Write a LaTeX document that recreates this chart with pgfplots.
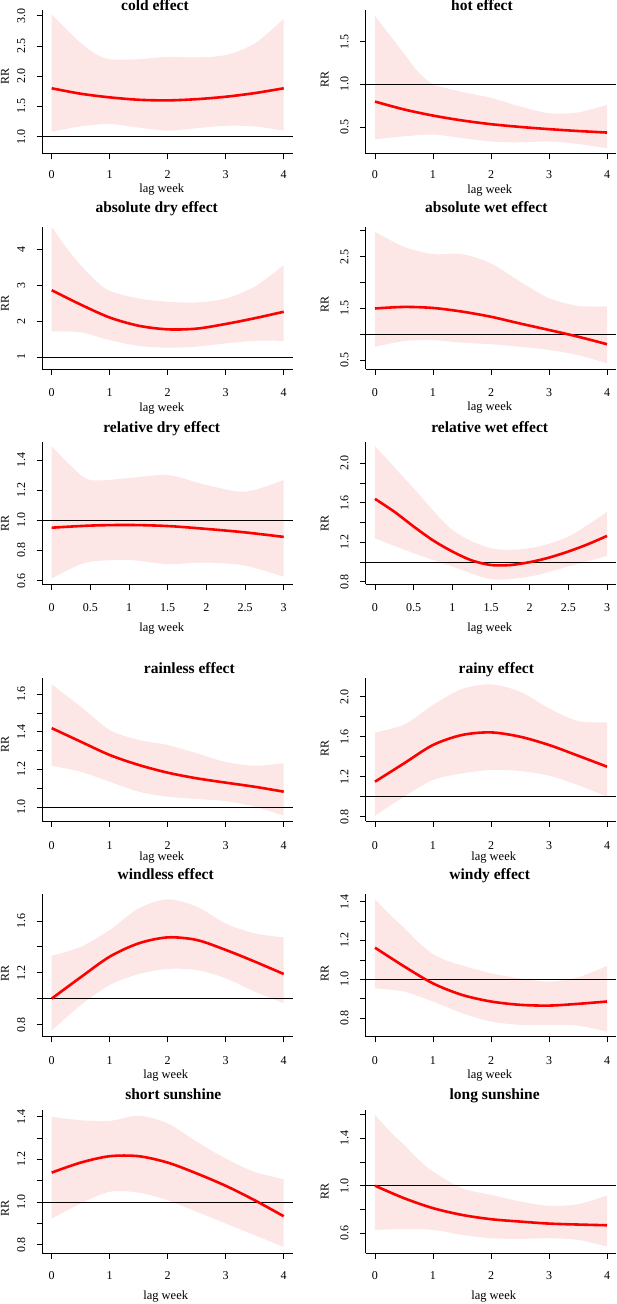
\documentclass[border=0pt]{standalone}
\usepackage{fontspec}
\setmainfont{Liberation Serif}
\usepackage{pgfplots}
\pgfplotsset{compat=1.18}
\usepgfplotslibrary{fillbetween}
\definecolor{bandcol}{RGB}{253,230,230}
\definecolor{rred}{RGB}{255,0,0}
\pgfplotsset{
 rpanel/.style={
  scale only axis, width=250.6pt, anchor=south west,
  axis x line*=bottom, axis y line*=left,
  axis line style={line width=0.8pt, black},
  tick align=outside, major tick length=5.7pt,
  every tick/.style={black, line width=0.8pt},
  tick label style={font=\fontsize{12}{13}\selectfont},
  yticklabel style={xshift=-15.5pt, rotate=90, anchor=center},
  xticklabel style={anchor=center},
 },
 lag4/.style={xmin=-0.16,xmax=4.16,xtick={0,1,2,3,4},xticklabels={0,1,2,3,4}},
 lag3/.style={xmin=-0.12,xmax=3.12,xtick={0,0.5,1,1.5,2,2.5,3},xticklabels={0,0.5,1,1.5,2,2.5,3}},
 xl/.style={xticklabel style={yshift=-#1pt+4.7pt}},
}
\newcommand{\band}[2]{%
 \addplot[name path=u, draw=none, smooth] coordinates {#1};
 \addplot[name path=l, draw=none, smooth] coordinates {#2};
 \addplot[fill=bandcol, draw=none] fill between[of=u and l];
}
\newcommand{\hone}[2]{\addplot[black, line width=0.7pt] coordinates {(#1,1) (#2,1)};}
\newcommand{\est}[1]{\addplot[rred, line width=2.6pt, smooth] coordinates {#1};}
\begin{document}
\begin{tikzpicture}
% ---------- Row 1 ----------
\begin{axis}[rpanel, lag4, xl=19.6, at={(42.4pt,1150.2pt)}, height=143.3pt, ymin=0.717, ymax=3.086,
 ytick={1,1.5,2,2.5,3}, yticklabels={1.0,1.5,2.0,2.5,3.0}]
\band{(0,3.02)(0.25,2.78)(0.5,2.55)(0.75,2.37)(1,2.28)(1.5,2.28)(2,2.32)(2.5,2.31)(3,2.35)(3.5,2.54)(4,2.95)}
     {(0,1.08)(0.5,1.17)(1,1.21)(1.5,1.15)(2,1.10)(2.5,1.14)(3,1.18)(3.5,1.17)(4,1.10)}
\hone{-0.16}{4.16}
\est{(0,1.80)(0.5,1.71)(1,1.65)(1.5,1.61)(2,1.60)(2.5,1.62)(3,1.66)(3.5,1.72)(4,1.80)}
\end{axis}
\begin{axis}[rpanel, lag4, xl=19.6, at={(365.7pt,1150.2pt)}, height=143.3pt, ymin=0.185, ymax=1.865,
 ytick={0.5,1,1.5}, yticklabels={0.5,1.0,1.5}]
\band{(0,1.80)(0.25,1.58)(0.5,1.36)(0.75,1.14)(1,1.0)(1.25,0.95)(1.5,0.91)(2,0.84)(2.5,0.74)(3,0.66)(3.5,0.67)(4,0.76)}
     {(0,0.355)(0.5,0.39)(1,0.41)(1.5,0.37)(2,0.33)(2.5,0.32)(3,0.33)(3.5,0.30)(4,0.25)}
\hone{-0.16}{4.16}
\est{(0,0.797)(0.5,0.705)(1,0.633)(1.5,0.576)(2,0.532)(2.5,0.500)(3,0.474)(3.5,0.452)(4,0.434)}
\end{axis}
% ---------- Row 2 ----------
\begin{axis}[rpanel, lag4, xl=22.7, at={(42.4pt,935pt)}, height=142.3pt, ymin=0.666, ymax=4.63,
 ytick={1,2,3,4}, yticklabels={1,2,3,4}]
\band{(0,4.63)(0.25,4.05)(0.5,3.56)(0.75,3.14)(1,2.84)(1.5,2.63)(2,2.54)(2.5,2.52)(3,2.63)(3.5,2.96)(4,3.56)}
     {(0,1.71)(0.5,1.69)(1,1.47)(1.5,1.31)(2,1.26)(2.5,1.29)(3,1.38)(3.5,1.45)(4,1.45)}
\hone{-0.16}{4.16}
\est{(0,2.86)(0.5,2.46)(1,2.10)(1.5,1.87)(2,1.77)(2.5,1.79)(3,1.92)(3.5,2.08)(4,2.26)}
\end{axis}
\begin{axis}[rpanel, lag4, xl=22.7, at={(365.7pt,935pt)}, height=142.3pt, ymin=0.332, ymax=3.079,
 ytick={0.5,1,1.5,2,2.5,3}, yticklabels={0.5,,1.5,,2.5,}]
\band{(0,2.98)(0.5,2.69)(1,2.55)(1.5,2.55)(2,2.37)(2.5,2.02)(3,1.70)(3.5,1.55)(4,1.54)}
     {(0,0.76)(0.5,0.87)(1,0.89)(1.5,0.84)(2,0.81)(2.5,0.76)(3,0.70)(3.5,0.60)(4,0.44)}
\hone{-0.16}{4.16}
\est{(0,1.50)(0.5,1.53)(1,1.51)(1.5,1.44)(2,1.34)(2.5,1.21)(3,1.085)(3.5,0.956)(4,0.81)}
\end{axis}
% ---------- Row 3 ----------
\begin{axis}[rpanel, lag3, xl=22.4, at={(42.4pt,719.7pt)}, height=142pt, ymin=0.576, ymax=1.517,
 ytick={0.6,0.8,1,1.2,1.4}, yticklabels={0.6,0.8,1.0,1.2,1.4}]
\band{(0,1.49)(0.25,1.36)(0.5,1.267)(1,1.28)(1.5,1.30)(2,1.234)(2.5,1.19)(3,1.267)}
     {(0,0.615)(0.25,0.68)(0.5,0.726)(1,0.737)(1.5,0.71)(2,0.72)(2.5,0.70)(3,0.626)}
\hone{-0.12}{3.12}
\est{(0,0.951)(0.5,0.965)(1,0.969)(1.5,0.962)(2,0.943)(2.5,0.92)(3,0.89)}
\end{axis}
\begin{axis}[rpanel, lag3, xl=22.4, at={(365.7pt,719.7pt)}, height=142pt, ymin=0.775, ymax=2.213,
 ytick={0.8,1,1.2,1.4,1.6,1.8,2}, yticklabels={0.8,,1.2,,1.6,,2.0}]
\band{(0,2.175)(0.5,1.747)(1,1.326)(1.5,1.14)(2,1.14)(2.5,1.258)(3,1.51)}
     {(0,1.24)(0.5,1.09)(1,0.955)(1.5,0.827)(2,0.854)(2.5,0.955)(3,1.063)}
\hone{-0.12}{3.12}
\est{(0,1.64)(0.25,1.51)(0.5,1.36)(0.75,1.22)(1,1.107)(1.25,1.017)(1.5,0.97)(1.75,0.97)(2,0.999)(2.25,1.045)(2.5,1.107)(2.75,1.18)(3,1.265)}
\end{axis}
% ---------- Row 4 ----------
\begin{axis}[rpanel, lag4, xl=24, at={(42.4pt,483pt)}, height=142.7pt, ymin=0.926, ymax=1.685,
 ytick={1,1.1,1.2,1.3,1.4,1.5,1.6}, yticklabels={1.0,,1.2,,1.4,,1.6}]
\band{(0,1.653)(0.5,1.534)(1,1.41)(1.5,1.357)(2,1.33)(2.5,1.286)(3,1.24)(3.5,1.22)(4,1.233)}
     {(0,1.22)(0.5,1.188)(1,1.135)(1.5,1.082)(2,1.055)(2.5,1.043)(3,1.032)(3.5,1.002)(4,0.954)}
\hone{-0.16}{4.16}
\est{(0,1.42)(0.5,1.348)(1,1.277)(1.5,1.224)(2,1.183)(2.5,1.153)(3,1.13)(3.5,1.108)(4,1.082)}
\end{axis}
\begin{axis}[rpanel, lag4, xl=24, at={(365.7pt,483pt)}, height=142.7pt, ymin=0.757, ymax=2.184,
 ytick={0.8,1,1.2,1.4,1.6,1.8,2}, yticklabels={0.8,,1.2,,1.6,,2.0}]
\band{(0,1.643)(0.5,1.72)(1,1.917)(1.5,2.077)(2,2.123)(2.5,2.05)(3,1.883)(3.5,1.757)(4,1.743)}
     {(0,0.81)(0.5,1.0)(1,1.167)(1.5,1.233)(2,1.267)(2.5,1.257)(3,1.21)(3.5,1.117)(4,1.0)}
\hone{-0.16}{4.16}
\est{(0,1.15)(0.5,1.333)(1,1.517)(1.5,1.617)(2,1.643)(2.5,1.60)(3,1.517)(3.5,1.41)(4,1.30)}
\end{axis}
% ---------- Row 5 ----------
\begin{axis}[rpanel, lag4, xl=23.3, at={(42.4pt,267.3pt)}, height=142.7pt, ymin=0.706, ymax=1.808,
 ytick={0.8,1,1.2,1.4,1.6}, yticklabels={0.8,,1.2,,1.6}]
\band{(0,1.33)(0.5,1.40)(1,1.53)(1.5,1.697)(2,1.767)(2.5,1.71)(3,1.58)(3.5,1.504)(4,1.473)}
     {(0,0.753)(0.5,0.95)(1,1.105)(1.5,1.19)(2,1.229)(2.5,1.221)(3,1.157)(3.5,1.054)(4,0.964)}
\hone{-0.16}{4.16}
\est{(0,1.0)(0.5,1.165)(1,1.324)(1.5,1.427)(2,1.473)(2.5,1.453)(3,1.376)(3.5,1.286)(4,1.19)}
\end{axis}
\begin{axis}[rpanel, lag4, xl=23.3, at={(365.7pt,267.3pt)}, height=142.7pt, ymin=0.705, ymax=1.439,
 ytick={0.8,0.9,1,1.1,1.2,1.3,1.4}, yticklabels={0.8,,1.0,,1.2,,1.4}]
\band{(0,1.412)(0.25,1.335)(0.5,1.265)(0.75,1.19)(1,1.13)(1.25,1.095)(1.5,1.072)(2,1.031)(2.5,1.005)(3,0.988)(3.5,1.01)(4,1.069)}
     {(0,0.954)(0.5,0.937)(1,0.886)(1.5,0.826)(2,0.783)(2.5,0.766)(3,0.766)(3.5,0.762)(4,0.731)}
\hone{-0.16}{4.16}
\est{(0,1.163)(0.5,1.067)(1,0.979)(1.5,0.92)(2,0.886)(2.5,0.869)(3,0.865)(3.5,0.874)(4,0.886)}
\end{axis}
% ---------- Row 6 ----------
\begin{axis}[rpanel, lag4, xl=21.7, at={(42.4pt,50.7pt)}, height=143.3pt, ymin=0.759, ymax=1.432,
 ytick={0.8,0.9,1,1.1,1.2,1.3,1.4}, yticklabels={0.8,,1.0,,1.2,,1.4}]
\band{(0,1.40)(0.5,1.384)(1,1.381)(1.5,1.405)(2,1.369)(2.5,1.283)(3,1.204)(3.5,1.141)(4,1.107)}
     {(0,0.922)(0.5,0.993)(1,1.048)(1.5,1.044)(2,1.008)(2.5,0.954)(3,0.899)(3.5,0.844)(4,0.789)}
\hone{-0.16}{4.16}
\est{(0,1.138)(0.5,1.185)(1,1.215)(1.5,1.215)(2,1.185)(2.5,1.134)(3,1.076)(3.5,1.008)(4,0.933)}
\end{axis}
\begin{axis}[rpanel, lag4, xl=21.7, at={(365.7pt,50.7pt)}, height=143.3pt, ymin=0.431, ymax=1.637,
 ytick={0.6,0.8,1,1.2,1.4,1.6}, yticklabels={0.6,,1.0,,1.4,}]
\band{(0,1.597)(0.25,1.46)(0.5,1.344)(0.75,1.22)(1,1.119)(1.5,0.979)(2,0.923)(2.5,0.867)(3,0.83)(3.5,0.844)(4,0.917)}
     {(0,0.628)(0.5,0.636)(1,0.628)(1.5,0.586)(2,0.558)(2.5,0.552)(3,0.558)(3.5,0.544)(4,0.488)}
\hone{-0.16}{4.16}
\est{(0,1.0)(0.5,0.895)(1,0.811)(1.5,0.754)(2,0.718)(2.5,0.698)(3,0.681)(3.5,0.673)(4,0.667)}
\end{axis}
% ---------- Titles ----------
\tikzset{ttl/.style={anchor=base, font=\bfseries\fontsize{15.5}{18}\selectfont, inner sep=0pt},
         lw/.style={anchor=center, font=\fontsize{12.5}{14}\selectfont, inner sep=0pt},
         rr/.style={anchor=center, rotate=90, font=\fontsize{12}{14}\selectfont, inner sep=0pt}}
\node[ttl] at (155pt,1293pt) {cold effect};
\node[ttl] at (482pt,1293pt) {hot effect};
\node[ttl] at (156.7pt,1091.3pt) {absolute dry effect};
\node[ttl] at (486.3pt,1091.3pt) {absolute wet effect};
\node[ttl] at (161.7pt,871.7pt) {relative dry effect};
\node[ttl] at (489.7pt,871.7pt) {relative wet effect};
\node[ttl] at (189.3pt,630.7pt) {rainless effect};
\node[ttl] at (496.3pt,630.7pt) {rainy effect};
\node[ttl] at (165.7pt,424.7pt) {windless effect};
\node[ttl] at (489.7pt,424.7pt) {windy effect};
\node[ttl] at (173.3pt,204pt) {short sunshine};
\node[ttl] at (494.7pt,204pt) {long sunshine};
% ---------- x labels ----------
\node[lw] at (161.7pt,1114pt) {lag week};
\node[lw] at (489.7pt,1113.3pt) {lag week};
\node[lw] at (161.7pt,895.7pt) {lag week};
\node[lw] at (489.7pt,896.3pt) {lag week};
\node[lw] at (161.7pt,675pt) {lag week};
\node[lw] at (489.7pt,675pt) {lag week};
\node[lw] at (161.7pt,446.7pt) {lag week};
\node[lw] at (493.7pt,446.7pt) {lag week};
\node[lw] at (165.7pt,228pt) {lag week};
\node[lw] at (489.7pt,228pt) {lag week};
\node[lw] at (165.7pt,7.3pt) {lag week};
\node[lw] at (493.7pt,7.3pt) {lag week};
% ---------- y labels ----------
\node[rr] at (5pt,1227pt) {RR};
\node[rr] at (324.7pt,1224pt) {RR};
\node[rr] at (5pt,1000.7pt) {RR};
\node[rr] at (324.7pt,999pt) {RR};
\node[rr] at (5pt,780.7pt) {RR};
\node[rr] at (324.7pt,780.7pt) {RR};
\node[rr] at (5pt,559pt) {RR};
\node[rr] at (324.7pt,555.7pt) {RR};
\node[rr] at (5pt,330.7pt) {RR};
\node[rr] at (324.7pt,330.7pt) {RR};
\node[rr] at (5pt,95.7pt) {RR};
\node[rr] at (324.7pt,112.3pt) {RR};
\pgfresetboundingbox
\useasboundingbox (0,0) rectangle (617pt,1304pt);
\end{tikzpicture}
\end{document}
